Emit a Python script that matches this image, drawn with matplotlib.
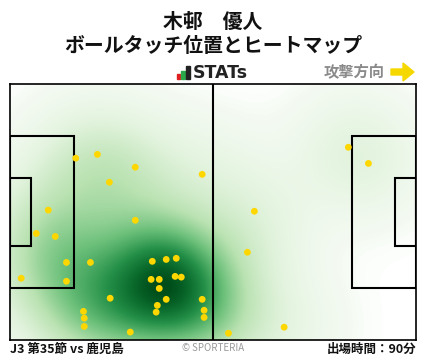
import numpy as np
import matplotlib
matplotlib.use("Agg")
import matplotlib.pyplot as plt
from matplotlib.colors import LinearSegmentedColormap
from matplotlib.patches import Rectangle, Polygon

plt.rcParams['font.family'] = ['Noto Sans CJK JP', 'DejaVu Sans']

# ---- data (pitch metres, x: 0-105 attacking right, y: 0-68 from top) ----
touch_x = [17.0, 22.6, 32.4, 25.7, 49.7, 9.9, 32.4, 6.8, 11.7, 14.6, 20.8, 36.8, 40.4,
           43.0, 2.9, 14.6, 36.5, 38.6, 42.7, 44.3, 38.6, 25.9, 40.4, 49.7, 38.1, 37.8,
           50.2, 50.2, 19.0, 19.2, 19.2, 31.1, 87.5, 92.7, 63.2, 61.4, 70.9, 56.5]
touch_y = [19.7, 18.7, 22.1, 26.1, 24.0, 33.5, 36.2, 39.7, 40.5, 47.4, 47.4, 47.1, 46.6,
           46.3, 51.6, 52.4, 51.9, 51.9, 51.1, 51.3, 54.3, 56.9, 57.2, 57.2, 58.8, 60.6,
           60.1, 62.0, 60.4, 62.2, 64.4, 65.9, 16.8, 21.1, 33.8, 44.7, 64.6, 66.2]

title_name = "木邨　優人"
title_sub = "ボールタッチ位置とヒートマップ"
match_label = "J3 第35節 vs 鹿児島"
minutes_label = "出場時間：90分"

PITCH_L, PITCH_W = 105.0, 68.0

fig = plt.figure(figsize=(4.28, 3.59), dpi=100)
W, H = 428, 359
ax = fig.add_axes([10 / W, (H - 340) / H, 406 / W, 256 / H])

# ---- heatmap (gaussian KDE of touches) ----
gx = np.linspace(0, PITCH_L, 420)
gy = np.linspace(0, PITCH_W, 272)
GX, GY = np.meshgrid(gx, gy)
px = np.array(touch_x)
py = np.array(touch_y)
bw = 10.5
Z = np.zeros_like(GX)
for xx, yy in zip(px, py):
    Z += np.exp(-((GX - xx) ** 2 + (GY - yy) ** 2) / (2 * bw ** 2))
Z /= Z.max()

cmap = LinearSegmentedColormap.from_list(
    "heat",
    [(0.0, "#ffffff"), (0.02, "#f4faf2"), (0.15, "#e2f3dd"), (0.35, "#b9e2b1"),
     (0.55, "#6cc07a"), (0.75, "#249048"), (0.9, "#0a6a2c"), (1.0, "#004d1a")])
ax.imshow(Z, extent=(0, PITCH_L, PITCH_W, 0), origin="upper", cmap=cmap,
          vmin=0, vmax=1, aspect="auto", interpolation="bilinear", zorder=0)

# ---- pitch lines ----
lw = 1.5
lc = "black"
ax.plot([PITCH_L / 2, PITCH_L / 2], [0, PITCH_W], color=lc, lw=lw, zorder=2)
box_d, box_w = 16.5, 40.3
ga_d, ga_w = 5.5, 18.3
for x0, d in [(0, box_d), (PITCH_L - box_d, box_d)]:
    ax.add_patch(Rectangle((x0, (PITCH_W - box_w) / 2), d, box_w, fill=False,
                           ec=lc, lw=lw, zorder=2))
for x0, d in [(0, ga_d), (PITCH_L - ga_d, ga_d)]:
    ax.add_patch(Rectangle((x0, (PITCH_W - ga_w) / 2), d, ga_w, fill=False,
                           ec=lc, lw=lw, zorder=2))

ax.scatter(touch_x, touch_y, s=24, color="#ffd700", edgecolors="none", zorder=3)

ax.set_xlim(0, PITCH_L)
ax.set_ylim(PITCH_W, 0)
ax.set_xticks([])
ax.set_yticks([])
for s in ax.spines.values():
    s.set_linewidth(1.2)
    s.set_color("black")

# ---- texts ----
fig.text(213 / W, 1 - 21 / H, title_name, ha="center", va="center",
         fontsize=14.3, fontweight="bold", color="#111111")
fig.text(213 / W, 1 - 46 / H, title_sub, ha="center", va="center",
         fontsize=14.3, fontweight="bold", color="#111111")

# STATs logo
fig.patches.append(Rectangle((177 / W, 1 - 79 / H), 3 / W, 5 / H, color="#e02020",
                             transform=fig.transFigure, figure=fig))
fig.patches.append(Rectangle((181 / W, 1 - 79 / H), 3.5 / W, 8 / H, color="#2aa84a",
                             transform=fig.transFigure, figure=fig))
fig.patches.append(Rectangle((186 / W, 1 - 79 / H), 4 / W, 13 / H, color="#222222",
                             transform=fig.transFigure, figure=fig))
fig.text(193 / W, 1 - 73 / H, "STATs", ha="left", va="center", fontsize=12.5,
         fontweight="bold", color="#222222", family=["DejaVu Sans"])

fig.text(385 / W, 1 - 72 / H, "攻撃方向", ha="right", va="center", fontsize=11,
         fontweight="bold", color="#8a8a8a")
arrow = Polygon([(391 / W, 1 - 69 / H), (403 / W, 1 - 69 / H), (403 / W, 1 - 63 / H),
                 (414 / W, 1 - 72 / H), (403 / W, 1 - 81 / H), (403 / W, 1 - 75 / H),
                 (391 / W, 1 - 75 / H)], closed=True, color="#f5d800",
                transform=fig.transFigure, figure=fig)
fig.patches.append(arrow)

fig.text(10 / W, 1 - 349 / H, match_label, ha="left", va="center", fontsize=9,
         fontweight="bold", color="#111111")
fig.text(213 / W, 1 - 348 / H, "© SPORTERIA", ha="center", va="center", fontsize=7,
         color="#999999")
fig.text(416 / W, 1 - 349 / H, minutes_label, ha="right", va="center", fontsize=9,
         fontweight="bold", color="#111111")

fig.savefig("out.png", dpi=100, facecolor="white")
